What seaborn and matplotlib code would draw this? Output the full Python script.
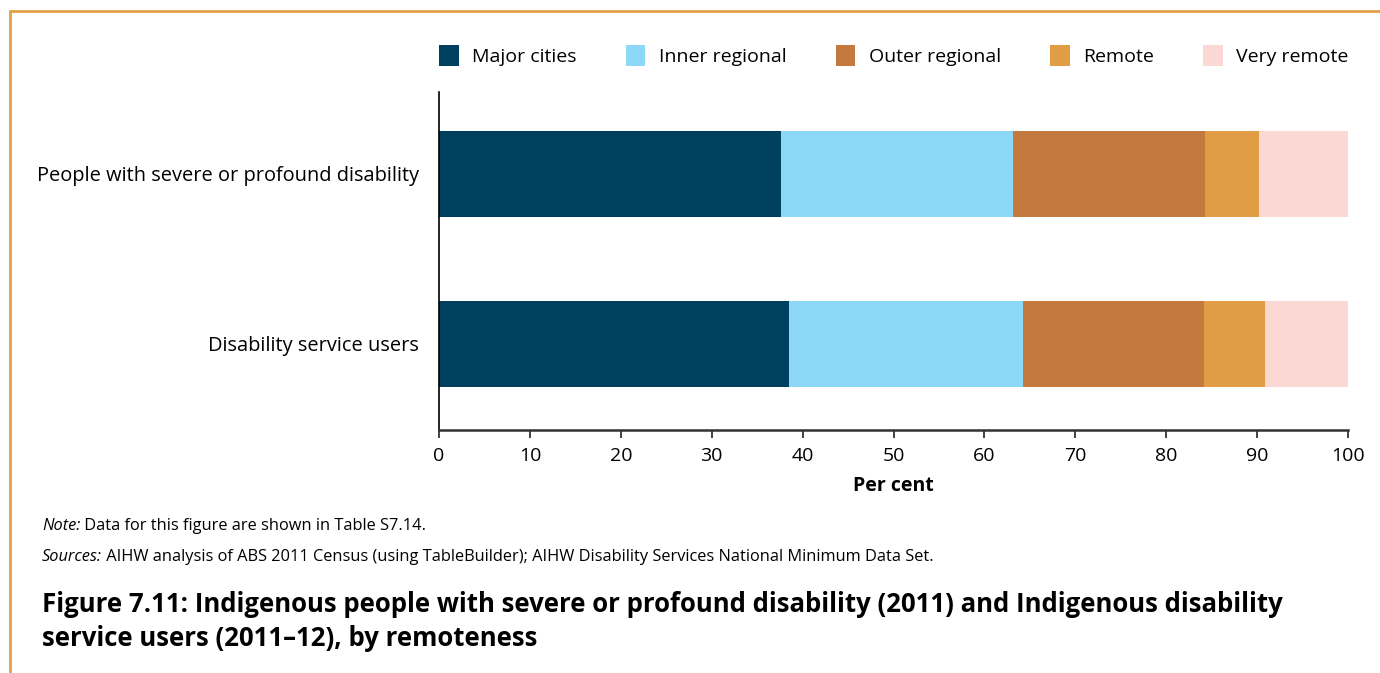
import matplotlib
matplotlib.use("Agg")
import matplotlib.pyplot as plt
import seaborn as sns
import pandas as pd
import numpy as np
from matplotlib.lines import Line2D
from matplotlib.patches import Patch

# ---- data ----
groups = ["People with severe or profound disability", "Disability service users"]
regions = ["Major cities", "Inner regional", "Outer regional", "Remote", "Very remote"]
severe_values = [37.6, 25.5, 21.2, 5.9, 9.8]
service_values = [38.5, 25.7, 20.0, 6.7, 9.1]
colors = ["#00405F", "#8ED8F7", "#C47A3E", "#E19D45", "#FCD8D5"]
xticks = [0, 10, 20, 30, 40, 50, 60, 70, 80, 90, 100]

sns.set_theme(style="white")
plt.rcParams["font.family"] = ["Open Sans", "DejaVu Sans"]
plt.rcParams["text.color"] = "black"

rows = []
for g, vals in zip(groups, [severe_values, service_values]):
    cum = np.cumsum(vals)
    for r, c in zip(regions, cum):
        rows.append({"group": g, "region": r, "cum": c})
df = pd.DataFrame(rows)

fig = plt.figure(figsize=(13.8, 6.73), dpi=100)
ax = fig.add_axes([439/1380, 1-430/673, (1348-439)/1380, (430-92)/673])

for r, col in reversed(list(zip(regions, colors))):
    sub = df[df["region"] == r]
    sns.barplot(data=sub, x="cum", y="group", order=groups, color=col,
                width=0.506, orient="h", ax=ax, saturation=1, linewidth=0,
                zorder=2)

ax.set_xlim(0, 100)
ax.set_ylim(1.506, -0.482)
ax.set_xticks(xticks)
ax.set_xticklabels([str(t) for t in xticks], fontsize=14)
ax.tick_params(axis="x", length=6, width=1.2, color="#222222", pad=6, bottom=True)
ax.tick_params(axis="y", length=0, pad=14.4)
for lab in ax.get_yticklabels():
    lab.set_color("black")
    lab.set_fontsize(14.4)
for lab in ax.get_xticklabels():
    lab.set_color("black")
ax.set_xlabel("Per cent", fontsize=14, fontweight="bold", labelpad=8, color="black")
ax.set_ylabel("")
sns.despine(ax=ax, top=True, right=True)
ax.spines["left"].set_color("black")
ax.spines["bottom"].set_color("#333333")
ax.spines["left"].set_linewidth(1.2)
ax.spines["bottom"].set_linewidth(1.8)

handles = [Patch(facecolor=c, edgecolor="none") for c in colors]
leg = fig.legend(handles, regions, loc="center right", bbox_to_anchor=(0.9773, 0.918),
                 ncol=5, frameon=False, fontsize=14, handlelength=1.0, handleheight=1.3,
                 handletextpad=0.7, columnspacing=2.53, borderaxespad=0, borderpad=0)
for t in leg.get_texts():
    t.set_color("black")

# Footnotes
fs = 11.8
t1 = fig.text(42/1380, 1-526/673, "Note:", fontsize=fs, style="italic", va="center")
ax.annotate(" Data for this figure are shown in Table S7.14.", xy=(1, 0.5),
            xycoords=t1, va="center", ha="left", fontsize=fs,
            annotation_clip=False)
t2 = fig.text(42/1380, 1-557/673, "Sources:", fontsize=fs, style="italic", va="center")
ax.annotate(" AIHW analysis of ABS 2011 Census (using TableBuilder); AIHW Disability Services National Minimum Data Set.",
            xy=(1, 0.5), xycoords=t2, va="center", ha="left", fontsize=fs,
            annotation_clip=False)

fig.text(42/1380, 1-605/673,
         "Figure 7.11: Indigenous people with severe or profound disability (2011) and Indigenous disability",
         fontsize=18.5, fontweight="bold", va="center")
fig.text(42/1380, 1-638/673, "service users (2011\u201312), by remoteness",
         fontsize=18.5, fontweight="bold", va="center")

# Orange frame (top and left)
fig.add_artist(Line2D([10/1380, 1.0], [1-11/673, 1-11/673], transform=fig.transFigure,
                      color="#E3A04A", linewidth=2))
fig.add_artist(Line2D([10/1380, 10/1380], [0, 1-11/673], transform=fig.transFigure,
                      color="#E3A04A", linewidth=2))

fig.savefig("out.png", dpi=100, facecolor="white")
